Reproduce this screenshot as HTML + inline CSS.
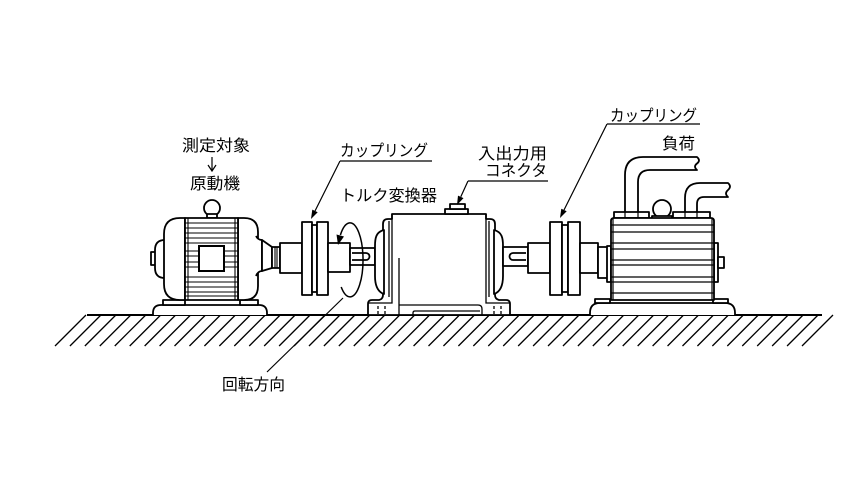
<!DOCTYPE html>
<html><head><meta charset="utf-8"><style>
html,body{margin:0;padding:0;background:#fff;}
svg{display:block;}
text{font-family:"Liberation Sans","Noto Sans CJK JP",sans-serif;font-size:16px;fill:#000;}
</style></head><body>
<svg width="864" height="486" viewBox="0 0 864 486" xmlns="http://www.w3.org/2000/svg">
<rect width="864" height="486" fill="#fff"/>
<!-- ground -->
<line x1="87" y1="315" x2="822" y2="315" stroke="#000" stroke-width="2"/>
<path d="M55 346 l31 -31 m-16.06 31 l31 -31 m-16.06 31 l31 -31 m-16.06 31 l31 -31 m-16.06 31 l31 -31 m-16.06 31 l31 -31 m-16.06 31 l31 -31 m-16.06 31 l31 -31 m-16.06 31 l31 -31 m-16.06 31 l31 -31 m-16.06 31 l31 -31 m-16.06 31 l31 -31 m-16.06 31 l31 -31 m-16.06 31 l31 -31 m-16.06 31 l31 -31 m-16.06 31 l31 -31 m-16.06 31 l31 -31 m-16.06 31 l31 -31 m-16.06 31 l31 -31 m-16.06 31 l31 -31 m-16.06 31 l31 -31 m-16.06 31 l31 -31 m-16.06 31 l31 -31 m-16.06 31 l31 -31 m-16.06 31 l31 -31 m-16.06 31 l31 -31 m-16.06 31 l31 -31 m-16.06 31 l31 -31 m-16.06 31 l31 -31 m-16.06 31 l31 -31 m-16.06 31 l31 -31 m-16.06 31 l31 -31 m-16.06 31 l31 -31 m-16.06 31 l31 -31 m-16.06 31 l31 -31 m-16.06 31 l31 -31 m-16.06 31 l31 -31 m-16.06 31 l31 -31 m-16.06 31 l31 -31 m-16.06 31 l31 -31 m-16.06 31 l31 -31 m-16.06 31 l31 -31 m-16.06 31 l31 -31 m-16.06 31 l31 -31 m-16.06 31 l31 -31 m-16.06 31 l31 -31 m-16.06 31 l31 -31 m-16.06 31 l31 -31 m-16.06 31 l31 -31 m-16.06 31 l31 -31 m-16.06 31 l31 -31" stroke="#000" stroke-width="1.3" fill="none"/>

<g fill="#fff" stroke="#000" stroke-width="1.8" stroke-linejoin="round">
<!-- MOTOR -->
<path d="M153 315 V313 Q153 305 161 305 H259 Q267 305 267 313 V315"/>
<rect x="163" y="300" width="22" height="5"/>
<rect x="240" y="300" width="18" height="5"/>
<circle cx="212" cy="208" r="8"/>
<rect x="207" y="214" width="10" height="4"/>
<rect x="151" y="252" width="5" height="13"/>
<path d="M165 240 Q155 240 155 250 V268 Q155 278 165 278"/>
<path d="M185 218 H180 Q164 218 164 234 V284 Q164 300 180 300 H185 Z"/>
<path d="M238 218 H244 Q258 218 258 232 V286 Q258 300 244 300 H238 Z"/>
<path d="M256 236 Q258 240 262 240 V271 Q258 271 256 276"/>
<path d="M262 240 L272 247 V268 L262 271 Z"/>
<rect x="185" y="218" width="53" height="82"/>
<rect x="272" y="247" width="8" height="21"/>
<rect x="280" y="243" width="22" height="30"/>
</g>
<g stroke="#000" stroke-width="1.1" fill="none">
<path d="M188 218 V300 M235 218 V300"/>
<path d="M185 223 H238 M185 228 H238 M185 233 H238 M185 238 H238 M185 243 H238 M185 277 H238 M185 282 H238 M185 287 H238 M185 292 H238 M185 296 H238"/>
<path d="M185 251 H199 M185 256 H199 M185 262 H199 M185 267 H199 M224 251 H238 M224 256 H238 M224 262 H238 M224 267 H238"/>
<path d="M275 247 V268 M277 247 V268"/>
</g>
<rect x="199" y="246" width="25" height="25" fill="#fff" stroke="#000" stroke-width="2"/>

<!-- LEFT COUPLING + SHAFT -->
<g fill="#fff" stroke="#000" stroke-width="1.8" stroke-linejoin="round">
<rect x="302" y="222" width="10" height="73"/>
<rect x="312" y="225" width="5" height="67"/>
<rect x="317" y="222" width="11" height="73"/>
<rect x="328" y="243" width="22" height="29"/>
<rect x="350" y="248" width="25" height="17"/>
<path d="M352 253 H366 A3.5 3.5 0 0 1 366 260 H352"/>
</g>
<!-- rotation arrow -->
<path d="M340.4 235 A13 37 0 1 1 341.2 287" fill="none" stroke="#000" stroke-width="1.5"/>
<polygon points="338,245 336.5,234.5 344,236.5" fill="#000"/>

<!-- TRANSDUCER -->
<g fill="#fff" stroke="#000" stroke-width="1.8" stroke-linejoin="round">
<path d="M368 315 V304 Q368 300 372 300 H379 Q383 299 383 295 V224 Q383 219 388 219 H392 V214 H486 V219 H490 Q495 219 495 224 V295 Q495 299 499 300 H506 Q510 300 510 304 V315 Z"/>
<path d="M384 230 C376 232 375 238 375 246 V276 C375 286 378 292 384 294 Z"/>
<path d="M494 230 C502 232 503 238 503 246 V276 C503 286 500 292 494 294 Z"/>
<rect x="445" y="209" width="23" height="5"/>
<rect x="450" y="204" width="15" height="5"/>
</g>
<g stroke="#000" stroke-width="1.3" fill="none">
<path d="M392 214 V303 H368 M486 214 V303 H510"/>
<path d="M389 221 V297 M489 221 V297"/>
<path d="M399 258 V315"/>
<path d="M399 305 H478 Q482 305 482 309 V315"/>
<path d="M413 315 V313 Q413 311 415 311 H480"/>
<path d="M378 306 V309 M378 311 V314 M385 306 V309 M385 311 V314 M494 306 V309 M494 311 V314 M501 306 V309 M501 311 V314"/>
</g>

<!-- RIGHT SHAFT + COUPLING -->
<g fill="#fff" stroke="#000" stroke-width="1.8" stroke-linejoin="round">
<rect x="503" y="247" width="25" height="19"/>
<path d="M526 253 H513 A3.5 3.5 0 0 0 513 260 H526"/>
<rect x="528" y="243" width="22" height="30"/>
<rect x="550" y="222" width="12" height="73"/>
<rect x="562" y="225" width="6" height="67"/>
<rect x="568" y="222" width="12" height="73"/>
<rect x="580" y="243" width="18" height="30"/>
<rect x="598" y="247" width="10" height="31"/>
</g>

<!-- LOAD -->
<g fill="#fff" stroke="#000" stroke-width="1.8" stroke-linejoin="round">
<path d="M590 315 V313 Q590 303 600 303 H725 Q735 303 735 313 V315"/>
<rect x="595" y="299" width="15" height="4"/>
<rect x="713" y="299" width="15" height="4"/>
<!-- pipes -->
<path d="M625 214 V175 Q625 157 643 157 H697 Q701 160.5 697 163.5 Q693 166.5 697 170 H650 Q638 170 638 182 V214 Z"/>
<path d="M685 214 V198 Q685 183 700 183 H728 Q732 186.5 728 190 Q724 193.5 728 197 H704 Q697 197 697 204 V214 Z"/>
<circle cx="662" cy="209" r="9"/>
<rect x="614" y="212" width="35" height="6"/>
<rect x="673" y="212" width="37" height="6"/>
<rect x="652" y="216" width="20" height="4"/>
<rect x="607" y="246" width="4" height="36"/>
<rect x="714" y="243" width="4" height="39"/>
<rect x="718" y="257" width="6" height="11"/>
<path d="M611 300 V221 Q611 218 614 218 H711 Q714 218 714 221 V300 Z"/>
</g>
<g stroke="#000" stroke-width="1.2" fill="none">
<path d="M625 212 V218 M638 212 V218 M685 212 V218 M697 212 V218"/>
<path d="M613 218 V300 M712 218 V300"/>
<path d="M611 225 H714 M611 232 H714 M611 243 H714 M611 249 H714 M611 260 H714 M611 265 H714 M611 277 H714 M611 282 H714 M611 293 H714"/>
</g>

<!-- LEADERS -->
<g stroke="#000" stroke-width="1.2" fill="none">
<path d="M340 161 H432 M340 161 L315 211"/>
<path d="M468 181 H548 M468 181 L460.8 196.8"/>
<path d="M607 124 H700 M607 124 L564 210"/>
<path d="M267 372 L343 298"/>
<path d="M212 157 V170 M208 165 L212 171 L216 165"/>
</g>
<g fill="#000">
<polygon points="311,219 317.7,212.3 312.3,209.6"/>
<polygon points="457,205 463.5,198.1 458,195.6"/>
<polygon points="560,218 566.7,211.3 561.3,208.7"/>
</g>

<!-- LABELS -->
<text x="182" y="151" textLength="68" lengthAdjust="spacingAndGlyphs">測定対象</text>
<text x="190" y="189" textLength="50" lengthAdjust="spacingAndGlyphs">原動機</text>
<text x="340" y="156" textLength="88" lengthAdjust="spacingAndGlyphs">カップリング</text>
<text x="340" y="201" textLength="97" lengthAdjust="spacingAndGlyphs">トルク変換器</text>
<text x="478" y="159" textLength="69" lengthAdjust="spacingAndGlyphs">入出力用</text>
<text x="485" y="176" textLength="62" lengthAdjust="spacingAndGlyphs">コネクタ</text>
<text x="222" y="390" textLength="63" lengthAdjust="spacingAndGlyphs">回転方向</text>
<text x="610" y="121" textLength="87" lengthAdjust="spacingAndGlyphs">カップリング</text>
<text x="662" y="149" textLength="33" lengthAdjust="spacingAndGlyphs">負荷</text>
</svg>
</body></html>
